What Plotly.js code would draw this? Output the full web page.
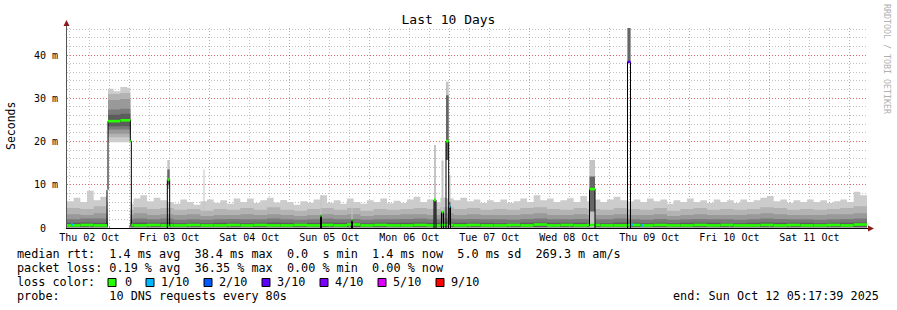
<!DOCTYPE html>
<html><head><meta charset="utf-8">
<script src="https://cdn.plot.ly/plotly-3.0.1.min.js"></script>
<style>html,body{margin:0;padding:0;background:#fff}</style>
</head><body><div id="chart" style="width:897px;height:310px"></div>
<script>
// ---------- DATA ----------
// time axis: hours after 2025-10-02 05:17:39 (graph start), 240 h shown
const startUTC = Date.UTC(2025, 9, 2, 5, 17, 39);
const spanHours = 240;

// highest ping of each step (lightest smoke top), ms
const hrsA = [0,2,4,6,8,10,12,12.3,14,16,18,19,19.3,20,22,24,26,28,30,32,34,36,38,40,42,44,46,48,50,52,54,56,58,60,62,64,66,68,70,72,74,76,78,80,82,84,86,88,90,92,94,96,98,100,102,104,106,108,110,112,114,116,118,120,122,124,126,128,130,132,134,136,138,140,142,144,146,148,150,152,154,156,158,160,162,164,166,168,170,172,174,176,178,180,182,184,186,188,190,192,194,196,198,200,202,204,206,208,210,212,214,216,218,220,222,224,226,228,230,232,234,236,238];
const smokeMax = [6.2,7.0,6.0,8.6,6.4,7.2,6.0,32.2,31.6,32.6,32.4,6.0,5.6,6.8,7.6,6.2,7.0,6.4,6.0,5.6,6.6,6.0,5.4,6.2,6.6,5.8,6.4,5.6,6.8,6.0,6.8,5.8,6.4,7.0,5.9,6.5,6.0,5.4,6.2,5.8,6.6,7.6,5.8,6.4,5.6,6.8,6.0,5.6,6.4,6.0,6.8,5.7,6.3,5.8,6.6,7.2,6.0,6.6,6.0,7.0,6.8,6.4,7.0,6.2,6.6,5.8,6.4,6.0,6.6,5.8,6.2,6.8,6.0,7.6,6.4,6.8,6.0,6.4,6.9,6.0,7.4,6.2,6.6,6.0,6.6,7.2,6.4,6.2,6.6,6.0,6.8,6.2,6.6,5.6,6.4,6.0,6.8,6.0,6.4,5.8,6.6,6.0,6.4,5.8,6.6,6.0,6.4,7.0,7.4,6.2,6.6,5.8,6.4,6.0,6.6,6.0,6.4,5.8,6.2,6.6,6.0,8.4,7.6];

// inner smoke percentiles and median rtt, ms
const hrsB = [0,4,8,12,12.3,16,19,19.3,20,24,28,32,36,40,44,48,52,56,60,64,68,72,76,80,84,88,92,96,100,104,108,112,116,120,124,128,132,136,140,144,148,152,156,160,164,168,172,176,180,184,188,192,196,200,204,208,212,216,220,224,228,232,236];
const smokeP90 = [4.6,4.4,5.0,4.4,31.0,31.2,4.2,4.2,4.8,4.4,4.6,4.2,4.4,4.0,4.4,4.2,4.6,4.2,4.8,4.2,4.0,4.4,4.6,4.2,4.6,4.0,4.4,4.2,4.4,4.6,4.4,4.8,4.4,4.6,4.2,4.4,4.2,4.6,4.8,4.4,4.2,4.6,4.4,4.2,4.6,4.4,4.2,4.6,4.0,4.4,4.6,4.2,4.4,4.2,4.4,4.8,4.6,4.2,4.4,4.2,4.4,4.6,5.0];
const smokeP75 = [3.2,3.0,3.4,3.0,29.6,29.8,3.0,3.0,3.4,3.0,3.2,3.0,3.2,2.8,3.0,3.0,3.2,3.0,3.2,3.0,2.8,3.0,3.2,3.0,3.2,2.8,3.0,3.0,3.2,3.2,3.0,3.4,3.0,3.2,3.0,3.0,3.0,3.2,3.4,3.0,3.0,3.2,3.0,3.0,3.2,3.0,3.0,3.2,2.8,3.0,3.2,3.0,3.0,3.0,3.2,3.4,3.2,3.0,3.0,3.0,3.2,3.2,3.4];
const smokeP60 = [2.0,2.2,2.2,2.0,27.4,27.6,2.0,2.0,2.2,2.0,2.2,1.9,2.0,1.9,2.0,2.1,2.0,2.0,2.2,2.0,1.9,2.0,2.2,2.0,2.1,1.9,2.0,2.0,2.1,2.2,2.0,2.2,2.0,2.1,2.0,2.0,1.9,2.1,2.2,2.0,2.0,2.1,2.0,2.0,2.2,2.0,1.9,2.1,1.9,2.0,2.1,2.0,2.0,1.9,2.0,2.2,2.1,2.0,2.0,1.9,2.0,2.1,2.2];
const smokeP55 = [1.2,1.3,1.2,1.2,26.2,26.4,1.2,1.2,1.3,1.2,1.3,1.1,1.2,1.1,1.2,1.2,1.1,1.2,1.3,1.2,1.1,1.2,1.3,1.2,1.2,1.1,1.2,1.2,1.2,1.3,1.2,1.3,1.2,1.2,1.2,1.1,1.1,1.2,1.3,1.2,1.2,1.2,1.2,1.1,1.3,1.2,1.1,1.2,1.1,1.2,1.2,1.2,1.1,1.1,1.2,1.3,1.2,1.2,1.2,1.1,1.2,1.2,1.3];
const medianRtt = [0.6,0.7,0.6,8.8,24.7,24.9,20.1,0.7,0.6,0.7,0.6,0.6,0.7,0.6,0.6,0.7,0.6,0.7,0.6,0.6,0.7,0.6,0.7,0.6,0.8,0.6,0.7,0.6,0.6,0.7,0.6,0.7,0.6,0.7,0.6,0.6,0.7,0.6,0.8,0.6,0.7,0.6,0.7,0.6,0.6,0.7,0.6,0.7,0.6,0.6,0.7,0.6,0.7,0.6,0.6,0.7,0.6,0.7,0.6,0.6,0.7,0.6,0.8];

// lower smoke edges (only the slow period is lifted off the floor)
const lowHrs = [0, 12.3, 19, 240];
const lowMin = [0.15, 19.8, 0.15, 0.15];
const lowP10 = [0.15, 21.0, 0.15, 0.15];
const lowP25 = [0.15, 21.8, 0.15, 0.15];
const lowP40 = [0.15, 22.8, 0.15, 0.15];
const lowP45 = [0.15, 23.5, 0.15, 0.15];

// short spikes
const spikeFrom   = [30.1, 40.95, 76.05, 85.35, 110.1, 112.35, 113.7, 114.6, 156.75, 168.15];
const spikeTo     = [30.8, 41.25, 76.35, 85.65, 110.7, 112.95, 114.5, 115.05, 158.4, 169.05];
const spikeLo     = [9.0, 4.0, 0.2, 0.2, 0.2, 0.2, 15.7, 0.2, 0.2, 38.4];
const spikeHi     = [15.7, 13.5, 7.5, 5.0, 19.2, 15.6, 33.8, 12.2, 15.7, 46.4];
const spikeCoreLo = [10.0, 4.0, 0.2, 0.2, 0.2, 0.2, 15.7, 0.2, 3.8, 38.4];
const spikeCoreHi = [13.5, 4.0, 3.0, 2.0, 6.5, 3.8, 30.7, 6.0, 11.9, 46.4];
const spikeMed    = [11.2, null, 2.8, 1.8, 6.5, 3.7, 20.1, 5.0, 9.0, 38.4];
const spikeLoss   = ['0', '0', '0', '0', '0', '0', '0', '1/10', '0', '3/10'];

// isolated lossy steps on the floor
const lossHrs = [1.2, 169.2, 172.2];
const lossRtt = [0.8, 0.8, 0.6];
const lossLvl = ['1/10', '1/10', '1/10'];

// legend
const lossLabels = ['0', '1/10', '2/10', '3/10', '4/10', '5/10', '9/10'];
const lossColors = ['#26ff00', '#00b8ff', '#0059ff', '#5e00ff', '#7e00ff', '#dd00ff', '#ff0000'];
const yTickVals = [0, 10, 20, 30, 40];
const yTickText = ['0\u00a0\u00a0', '10 m', '20 m', '30 m', '40 m'];
const statLines = [
  'median rtt:  1.4 ms avg  38.4 ms max  0.0  s min  1.4 ms now  5.0 ms sd  269.3 m am/s',
  'packet loss: 0.19 % avg  36.35 % max  0.00 % min  0.00 % now',
  'loss color:',
  'probe:       10 DNS requests every 80s'
];
const endText = 'end: Sun Oct 12 05:17:39 2025';
const titleText = 'Last 10 Days';
const yTitle = 'Seconds';
const watermark = 'RRDTOOL / TOBI OETIKER';

// ---------- DRAWING ----------
const toX = h => new Date(startUTC + h * 3600000).toISOString().slice(0, 23).replace('T', ' ');
const colorOf = lbl => lossColors[lossLabels.indexOf(lbl)];
const stepX = hrs => hrs.map(toX).concat([toX(spanHours)]);
const stepY = v => v.concat([v[v.length - 1]]);

const traces = [];
function band(bh, bv, th, tv, color) {
  traces.push({x: stepX(bh), y: stepY(bv), mode: 'lines', line: {width: 0, shape: 'hv', color: 'rgba(0,0,0,0)'}, hoverinfo: 'skip', showlegend: false});
  traces.push({x: stepX(th), y: stepY(tv), mode: 'lines', line: {width: 0, shape: 'hv', color: 'rgba(0,0,0,0)'}, fill: 'tonexty', fillcolor: color, hoverinfo: 'skip', showlegend: false});
}
band(lowHrs, lowMin, hrsA, smokeMax, '#cccccc');
band(lowHrs, lowP10, hrsB, smokeP90, '#b3b3b3');
band(lowHrs, lowP25, hrsB, smokeP75, '#999999');
band(lowHrs, lowP40, hrsB, smokeP60, '#7a7a7a');
band(lowHrs, lowP45, hrsB, smokeP55, '#5c5c5c');

// spike smoke polygons
function rects(lo, hi, onlyLifted) {
  const x = [], y = [];
  spikeFrom.forEach((f, i) => {
    if (hi[i] <= lo[i]) return;
    if (onlyLifted && (spikeMed[i] === null || lo[i] < 1)) return;
    const a = toX(f), b = toX(spikeTo[i]);
    x.push(a, b, b, a, a, null); y.push(lo[i], lo[i], hi[i], hi[i], lo[i], null);
  });
  return {x, y};
}
const zeros = spikeFrom.map(() => 0);
const r0 = rects(zeros, spikeLo, true);
traces.push({x: r0.x, y: r0.y, mode: 'lines', line: {width: 0}, fill: 'toself', fillcolor: '#ffffff', hoverinfo: 'skip', showlegend: false});
const r1 = rects(spikeLo, spikeHi);
traces.push({x: r1.x, y: r1.y, mode: 'lines', line: {width: 0}, fill: 'toself', fillcolor: '#c4c4c4', hoverinfo: 'skip', showlegend: false});
const r2 = rects(spikeCoreLo, spikeCoreHi);
traces.push({x: r2.x, y: r2.y, mode: 'lines', line: {width: 0}, fill: 'toself', fillcolor: '#666666', hoverinfo: 'skip', showlegend: false});

// median: black step outline + coloured flats
traces.push({x: stepX(hrsB), y: stepY(medianRtt), mode: 'lines', line: {width: 1, shape: 'hv', color: '#000'}, hoverinfo: 'skip', showlegend: false});
(function () {
  const x = [], y = [];
  hrsB.forEach((h, i) => {
    const e = i + 1 < hrsB.length ? hrsB[i + 1] : spanHours;
    x.push(toX(h), toX(e), null); y.push(medianRtt[i], medianRtt[i], null);
  });
  traces.push({x, y, mode: 'lines', line: {width: 2.6, color: colorOf('0')}, hoverinfo: 'skip', showlegend: false});
})();
spikeFrom.forEach((f, i) => {
  if (spikeMed[i] === null) return;
  const a = toX(f), b = toX(spikeTo[i]);
  traces.push({x: [a, a, b, b], y: [0, spikeMed[i], spikeMed[i], 0], mode: 'lines', line: {width: 1, color: '#000'}, hoverinfo: 'skip', showlegend: false});
  traces.push({x: [a, b], y: [spikeMed[i], spikeMed[i]], mode: 'lines', line: {width: 2.6, color: colorOf(spikeLoss[i])}, hoverinfo: 'skip', showlegend: false});
});
lossHrs.forEach((h, i) => {
  traces.push({x: [toX(h), toX(h + 0.6)], y: [lossRtt[i], lossRtt[i]], mode: 'lines', line: {width: 2.6, color: colorOf(lossLvl[i])}, hoverinfo: 'skip', showlegend: false});
});

// ---------- LAYOUT ----------
const W = 897, H = 310, L = 67, R = 867, T = 28, B = 228;
const px = x => (x - L) / (R - L);
const py = y => (B - y) / (B - T);
const mono = 'DejaVu Sans Mono, monospace';
const nb = s => s.replace(/ /g, '\u00a0');

const annotations = [];
const ann = (x, y, text, opt) => annotations.push(Object.assign({xref: 'paper', yref: 'paper', x: px(x), y: py(y), text: nb(text), showarrow: false, xanchor: 'left', yanchor: 'middle', borderpad: 0, font: {family: mono, size: 11.8, color: '#000'}}, opt || {}));
statLines.forEach((s, i) => ann(16, 254 + 14 * i, s));
ann(880, 296, endText, {xanchor: 'right'});
const lossTextX = [123.5, 159.5, 217.5, 276, 333.5, 391.5, 449.5];
const lossBoxX = [108, 146, 204, 262, 320, 378, 436];
const shapes = [];
lossLabels.forEach((lbl, i) => {
  ann(lossTextX[i], 282, lbl);
  shapes.push({type: 'rect', xref: 'paper', yref: 'paper', x0: px(lossBoxX[i]), x1: px(lossBoxX[i] + 8), y0: py(286.5), y1: py(278.5), fillcolor: lossColors[i], line: {color: '#000', width: 1}});
});
ann(11, 126, yTitle, {xanchor: 'center', textangle: -90, font: {family: mono, size: 11.5, color: '#000'}});
ann(887, 59, watermark, {xanchor: 'center', textangle: 90, font: {family: mono, size: 8.3, color: '#b0b0b0'}});

// axis lines and arrows
shapes.push({type: 'line', xref: 'paper', yref: 'paper', x0: px(66.5), x1: px(66.5), y0: py(228), y1: py(25), line: {color: '#555', width: 1}, layer: 'above'});
shapes.push({type: 'line', xref: 'paper', yref: 'paper', x0: px(66), x1: px(870), y0: py(228.5), y1: py(228.5), line: {color: '#000', width: 1}, layer: 'above'});
shapes.push({type: 'path', xref: 'paper', yref: 'paper', path: `M ${px(66.5)} ${py(20)} L ${px(63.5)} ${py(26)} L ${px(69.5)} ${py(26)} Z`, fillcolor: '#8b1a1a', line: {width: 0}, layer: 'above'});
shapes.push({type: 'path', xref: 'paper', yref: 'paper', path: `M ${px(874)} ${py(228.5)} L ${px(868)} ${py(225.5)} L ${px(868)} ${py(231.5)} Z`, fillcolor: '#8b1a1a', line: {width: 0}, layer: 'above'});

const layout = {
  width: W, height: H,
  margin: {l: L, r: W - R, t: T, b: H - B, pad: 0},
  paper_bgcolor: '#fff', plot_bgcolor: '#fff',
  showlegend: false,
  title: {text: titleText, font: {family: mono, size: 13, color: '#000'}, x: 0.5, xref: 'container', xanchor: 'center', y: 1 - 19 / H, yref: 'container', yanchor: 'middle'},
  xaxis: {
    type: 'date', range: [toX(0), toX(spanHours)], fixedrange: true,
    tick0: '2025-10-02', dtick: 86400000, ticklabelmode: 'period', tickformat: '%a %d %b',
    tickfont: {family: mono, size: 10, color: '#000'}, ticklabelstandoff: 2,
    ticks: 'inside', ticklen: 3, tickcolor: '#ff7070',
    showgrid: true, gridcolor: 'rgba(255,0,0,0.45)', griddash: '1px,2px', gridwidth: 1,
    minor: {dtick: 6 * 3600000, tick0: '2025-10-02', showgrid: true, gridcolor: 'rgba(120,120,120,0.45)', griddash: '1px,2px', ticks: 'inside', ticklen: 2, tickcolor: '#999'},
    zeroline: false, showline: false
  },
  yaxis: {
    range: [0, 200 / 4.325], fixedrange: true,
    tickmode: 'array', tickvals: yTickVals, ticktext: yTickText,
    tickfont: {family: mono, size: 10, color: '#000'}, ticklabelstandoff: 8,
    ticks: '',
    showgrid: true, gridcolor: 'rgba(255,0,0,0.45)', griddash: '1px,2px', gridwidth: 1,
    minor: {dtick: 2, tick0: 0, showgrid: true, gridcolor: 'rgba(120,120,120,0.45)', griddash: '1px,2px'},
    zeroline: false, showline: false
  },
  annotations, shapes
};
Plotly.newPlot('chart', traces, layout, {staticPlot: true, displayModeBar: false});
</script></body></html>
